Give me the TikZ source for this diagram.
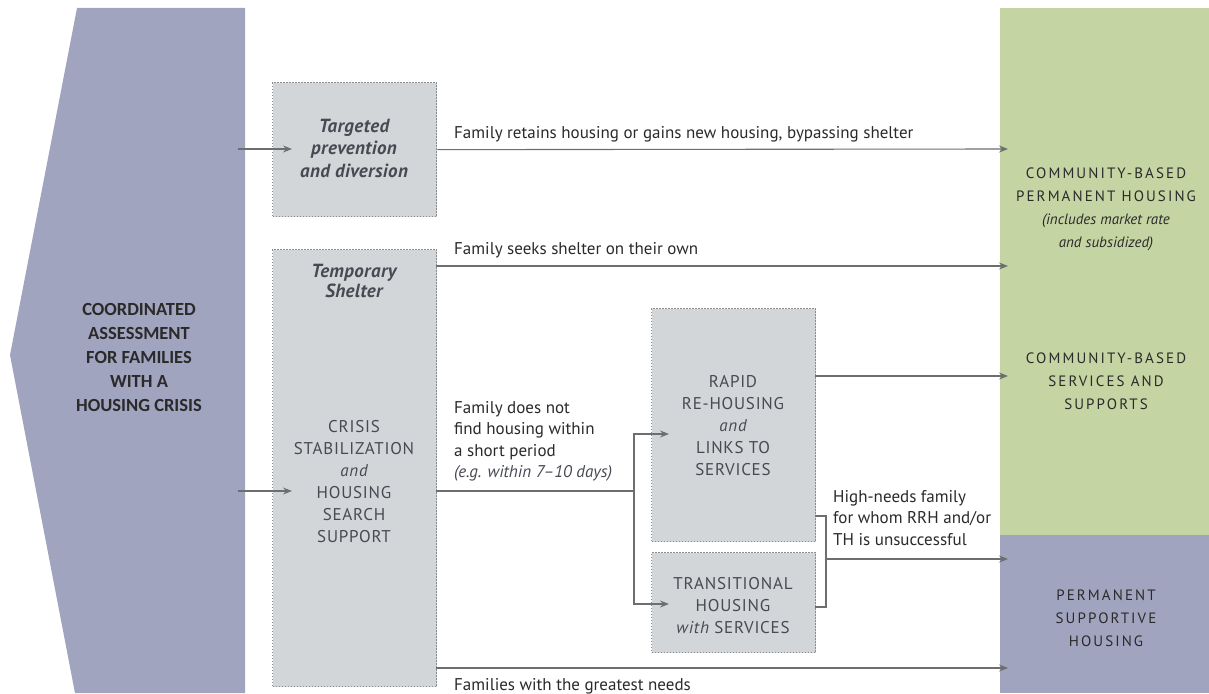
\documentclass[tikz,border=0pt]{standalone}
\usepackage{fontspec}
\setmainfont{PT Sans}
\newfontfamily\calfont{Carlito}
\usetikzlibrary{positioning}
\usetikzlibrary{arrows.meta}

\definecolor{panelblue}{HTML}{A1A4BF}
\definecolor{panelgreen}{HTML}{C4D4A2}
\definecolor{boxgray}{HTML}{D3D6D8}
\definecolor{dotgray}{HTML}{8C8C8C}
\definecolor{linegray}{HTML}{6E6E6E}
\definecolor{txtdark}{HTML}{2A2A2A}
\definecolor{txtbox}{HTML}{474A52}

\begin{document}
\begin{tikzpicture}[x=1pt,y=-1pt,
    every node/.style={inner sep=0pt},
    hbox/.style={fill=boxgray,draw=dotgray,line width=1.3pt,dash pattern=on 1.3pt off 1.7pt,
                 minimum width=164pt,anchor=north west},
    wire/.style={draw=linegray,line width=1.1pt},
    flow/.style={wire,-{Stealth[length=9pt,width=7pt,inset=3pt]}},
    flowtxt/.style={anchor=north west,align=left,text=txtdark,font=\fontsize{17}{21.5}\selectfont},
    boxtxt/.style={align=center,text=txtbox,font=\fontsize{17}{22}\selectfont\addfontfeature{LetterSpace=4.5}},
    boxhead/.style={align=center,text=txtbox,font=\bfseries\itshape\fontsize{19}{22.5}\selectfont\addfontfeature{LetterSpace=2}},
    paneltxt/.style={align=center,text=txtdark,font=\fontsize{15}{23}\selectfont\addfontfeature{LetterSpace=14}}]
  \useasboundingbox (0,0) rectangle (1209,693);

  % left panel
  \fill[panelblue] (77,8) -- (245,8) -- (245,693) -- (75,693) -- (10,355) -- cycle;
  \node[align=center,text=txtdark,font=\calfont\bfseries\fontsize{18.5}{24}\selectfont] (assess) at (139,357)
       {COORDINATED\\ASSESSMENT\\FOR FAMILIES\\WITH A\\HOUSING CRISIS};

  % right panels
  \node[fill=panelgreen,minimum width=209pt,minimum height=527pt,anchor=north west] (comm) at (1000,8) {};
  \node[fill=panelblue,minimum width=209pt,minimum height=158pt,anchor=north west] (psh) at (1000,535) {};
  \node[paneltxt] (permtxt) at (1106,209)
       {COMMUNITY-BASED\\PERMANENT HOUSING\\
        {\addfontfeature{LetterSpace=0}\itshape\fontsize{15}{21}\selectfont (includes market rate}\\
        {\addfontfeature{LetterSpace=0}\itshape\fontsize{15}{21}\selectfont and subsidized)}};
  \node[paneltxt] (servtxt) at (1106,381) {COMMUNITY-BASED\\SERVICES AND\\SUPPORTS};
  \node[paneltxt] (pshtxt) at (1106,618) {PERMANENT\\SUPPORTIVE\\HOUSING};

  % boxes
  \node[hbox,minimum height=134pt] (prev) at (272,82) {};
  \node[boxhead] (prevtxt) at (354,148) {Targeted\\prevention\\and diversion};
  \node[hbox,minimum height=437pt] (shelter) at (272,249) {};
  \node[boxhead,font=\bfseries\itshape\fontsize{19}{20}\selectfont\addfontfeature{LetterSpace=2}] (sheltxt) at (354,281) {Temporary\\Shelter};
  \node[boxtxt] (crisis) at (354,482) {CRISIS\\STABILIZATION\\{\itshape and}\\HOUSING\\SEARCH\\SUPPORT};
  \node[hbox,minimum height=233pt] (rrh) at (651,308) {};
  \node[boxtxt] (rrhtxt) at (733,426) {RAPID\\RE-HOUSING\\{\itshape and}\\LINKS TO\\SERVICES};
  \node[hbox,minimum height=100pt] (th) at (651,552) {};
  \node[boxtxt] (thtxt) at (733,606) {TRANSITIONAL\\HOUSING\\{\itshape with} SERVICES};

  % connector ends
  \coordinate (a1) at (238,149);  \coordinate (b1) at (292,149);
  \coordinate (a2) at (238,491);  \coordinate (b2) at (292,491);
  \coordinate (s1) at (436,266);  \coordinate (s2) at (436,491);  \coordinate (s3) at (436,668);
  \coordinate (fork) at (634,491);
  \coordinate (r1) at (669,434);  \coordinate (t1) at (669,604);
  \coordinate (r2) at (815,376);
  \coordinate (h1) at (815,516);  \coordinate (hm) at (826,559);  \coordinate (h2) at (815,607);
  \foreach \y in {149,266,376,559,668} { \coordinate (e\y) at (1008,\y); }

  \draw[flow] (a1) -- (b1);
  \draw[flow] (a2) -- (b2);
  \draw[flow] (prev.east) -- (e149);
  \draw[flow] (s1) -- (e266);
  \draw[flow] (s3) -- (e668);
  \draw[wire] (s2) -- (fork);
  \draw[flow] (fork) |- (r1);
  \draw[flow] (fork) |- (t1);
  \draw[flow] (r2) -- (e376);
  \draw[wire] (h1) -| (hm) |- (h2);
  \draw[flow] (hm) -- (e559);

  % labels
  \node[flowtxt] (lbl1) at (454,126) {Family retains housing or gains new housing, bypassing shelter};
  \node[flowtxt] (lbl2) at (454,242) {Family seeks shelter on their own};
  \node[flowtxt] (lbl3) at (454,401) {Family does not\\find housing within\\a short period\\{\itshape\color{txtbox}(e.g. within 7–10 days)}};
  \node[flowtxt] (lbl4) at (833,490) {High-needs family\\for whom RRH and/or\\TH is unsuccessful};
  \node[flowtxt] (lbl5) at (454,678) {Families with the greatest needs};
\end{tikzpicture}
\end{document}
